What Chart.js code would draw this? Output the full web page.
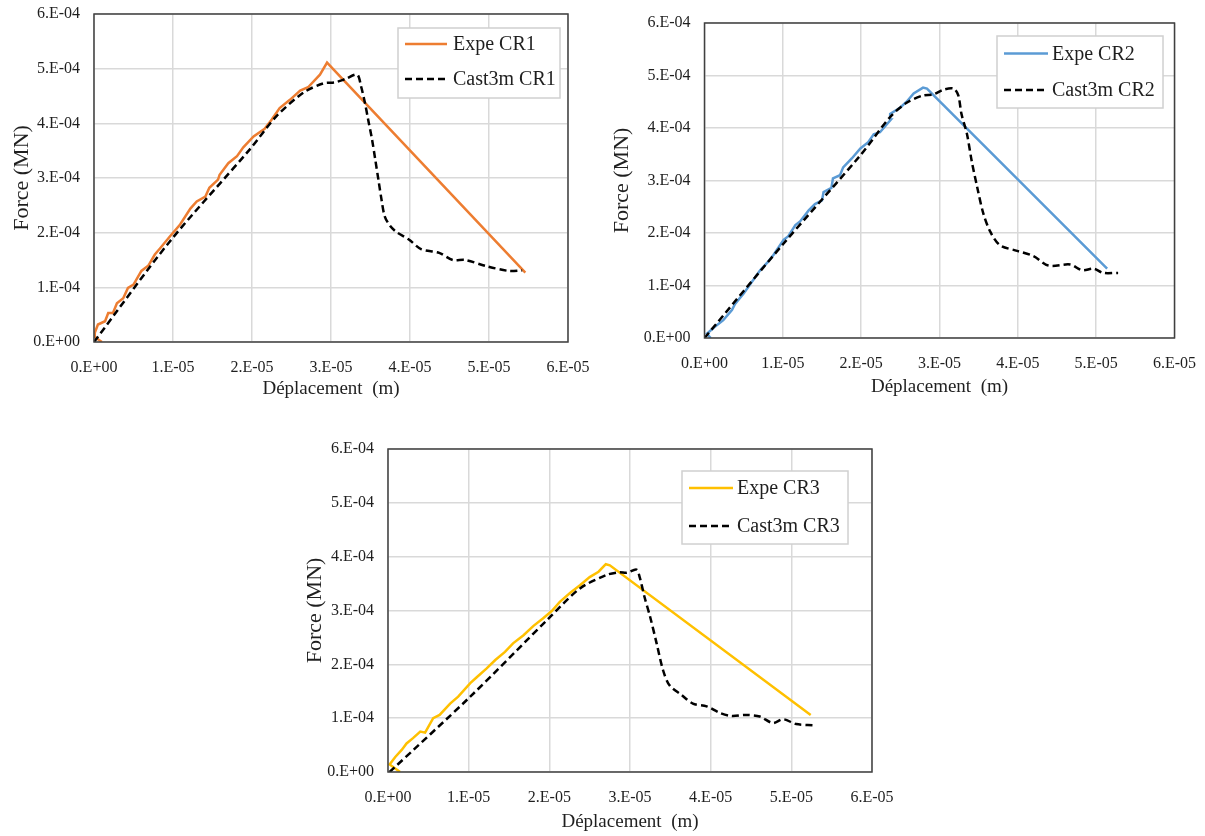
<!DOCTYPE html>
<html>
<head>
<meta charset="utf-8">
<title>Force - Déplacement CR1 CR2 CR3</title>
<script src="https://cdn.jsdelivr.net/npm/chart.js@4.4.1/dist/chart.umd.min.js"></script>
<style>
  html, body { margin: 0; padding: 0; background: #fff; }
  body { width: 1205px; height: 836px; position: relative; overflow: hidden; }
  .panel { position: absolute; }
</style>
</head>
<body>
<div class="panel" style="left:0px;top:0px"><canvas id="cr1" width="600" height="410"></canvas></div>
<div class="panel" style="left:600px;top:0px"><canvas id="cr2" width="605" height="410"></canvas></div>
<div class="panel" style="left:290px;top:430px"><canvas id="cr3" width="620" height="406"></canvas></div>
<script>
// displacement in units of 1.E-05 m, force in units of 1.E-04 MN
const xTickLabels = ['0.E+00', '1.E-05', '2.E-05', '3.E-05', '4.E-05', '5.E-05', '6.E-05'];
const yTickLabels = ['0.E+00', '1.E-04', '2.E-04', '3.E-04', '4.E-04', '5.E-04', '6.E-04'];

const cr1ExpeX = [0.10, 0.00, 0.01, 0.05, 0.14, 0.18, 0.24, 0.29, 0.37, 0.43, 0.50, 0.60, 0.69, 0.77, 0.84, 0.96, 1.09, 1.22, 1.30, 1.41, 1.46, 1.57, 1.59, 1.70, 1.81, 1.89, 2.02, 2.16, 2.25, 2.35, 2.48, 2.61, 2.71, 2.86, 2.95, 5.46];
const cr1ExpeY = [0.00, 0.10, 0.17, 0.32, 0.38, 0.53, 0.53, 0.71, 0.80, 0.99, 1.05, 1.30, 1.40, 1.60, 1.72, 1.93, 2.15, 2.44, 2.57, 2.66, 2.82, 2.97, 3.06, 3.27, 3.40, 3.56, 3.76, 3.90, 4.07, 4.28, 4.43, 4.60, 4.66, 4.89, 5.11, 1.27];
const cr1CastX = [0, 0.96, 1.97, 2.31, 2.65, 2.90, 3.05, 3.18, 3.33, 3.38, 3.43, 3.47, 3.52, 3.56, 3.60, 3.64, 3.68, 3.75, 3.83, 3.99, 4.14, 4.37, 4.54, 4.70, 4.96, 5.25, 5.42];
const cr1CastY = [0, 1.84, 3.52, 4.13, 4.56, 4.73, 4.75, 4.81, 4.89, 4.68, 4.37, 4.07, 3.70, 3.34, 2.97, 2.60, 2.30, 2.12, 2.01, 1.87, 1.70, 1.63, 1.50, 1.50, 1.39, 1.30, 1.31];

const cr2ExpeX = [0.08, 0.03, 0.12, 0.24, 0.35, 0.39, 0.50, 0.62, 0.71, 0.81, 0.88, 1.01, 1.07, 1.16, 1.22, 1.33, 1.41, 1.50, 1.52, 1.62, 1.64, 1.73, 1.77, 1.88, 1.99, 2.09, 2.16, 2.24, 2.38, 2.37, 2.50, 2.58, 2.67, 2.79, 2.84, 5.14];
const cr2ExpeY = [0.00, 0.08, 0.20, 0.34, 0.53, 0.65, 0.85, 1.10, 1.29, 1.45, 1.58, 1.87, 1.94, 2.15, 2.22, 2.43, 2.55, 2.62, 2.78, 2.86, 3.04, 3.10, 3.25, 3.42, 3.61, 3.73, 3.88, 3.92, 4.16, 4.27, 4.39, 4.50, 4.66, 4.77, 4.75, 1.32];
const cr2CastX = [0, 1.01, 1.99, 2.37, 2.58, 2.79, 2.92, 3.05, 3.18, 3.24, 3.28, 3.35, 3.41, 3.48, 3.56, 3.65, 3.77, 3.99, 4.20, 4.39, 4.67, 4.82, 4.97, 5.09, 5.28];
const cr2CastY = [0, 1.80, 3.48, 4.21, 4.48, 4.62, 4.64, 4.73, 4.75, 4.62, 4.27, 3.89, 3.38, 2.88, 2.37, 2.02, 1.77, 1.66, 1.56, 1.38, 1.40, 1.29, 1.32, 1.24, 1.24];

const cr3ExpeX = [0.15, 0.02, 0.09, 0.17, 0.23, 0.31, 0.40, 0.46, 0.56, 0.64, 0.77, 0.87, 1.02, 1.10, 1.22, 1.33, 1.45, 1.55, 1.68, 1.80, 1.92, 2.03, 2.13, 2.26, 2.38, 2.50, 2.61, 2.70, 2.75, 5.24];
const cr3ExpeY = [0.00, 0.14, 0.28, 0.41, 0.53, 0.63, 0.75, 0.73, 1.00, 1.06, 1.27, 1.40, 1.65, 1.76, 1.92, 2.08, 2.23, 2.39, 2.54, 2.71, 2.85, 2.99, 3.16, 3.33, 3.47, 3.62, 3.72, 3.86, 3.84, 1.06];
const cr3CastX = [0.02, 1.02, 2.01, 2.38, 2.71, 2.87, 2.96, 3.08, 3.12, 3.18, 3.25, 3.33, 3.41, 3.49, 3.64, 3.78, 3.95, 4.11, 4.26, 4.44, 4.61, 4.77, 4.90, 5.06, 5.27];
const cr3CastY = [0.00, 1.40, 2.88, 3.41, 3.66, 3.71, 3.70, 3.76, 3.62, 3.25, 2.88, 2.39, 1.89, 1.61, 1.43, 1.27, 1.22, 1.10, 1.04, 1.06, 1.03, 0.91, 0.98, 0.89, 0.87];

const FONT = '"Liberation Serif", "Times New Roman", serif';
const TEXT = '#1f1f1f';

const toPoints = (xs, ys) => xs.map((x, i) => ({ x, y: ys[i] }));

// plot frame + legend box drawn inside the plot
const frameLegend = {
  id: 'frameLegend',
  afterDatasetsDraw(chart, args, opts) {
    const { ctx, chartArea: a } = chart;
    const L = opts.box;
    ctx.save();
    ctx.strokeStyle = '#404040';
    ctx.lineWidth = 1.5;
    ctx.strokeRect(a.left, a.top, a.right - a.left, a.bottom - a.top);

    ctx.fillStyle = '#fff';
    ctx.fillRect(L.x, L.y, L.w, L.h);
    ctx.strokeStyle = '#d0d0d0';
    ctx.lineWidth = 1.5;
    ctx.strokeRect(L.x, L.y, L.w, L.h);

    chart.data.datasets.forEach((ds, i) => {
      const y = L.rows[i];
      ctx.strokeStyle = ds.borderColor;
      ctx.lineWidth = ds.borderWidth;
      ctx.setLineDash(ds.borderDash || []);
      ctx.beginPath();
      ctx.moveTo(L.x1, y);
      ctx.lineTo(L.x2, y);
      ctx.stroke();
      ctx.setLineDash([]);
      ctx.fillStyle = TEXT;
      ctx.font = '20px ' + FONT;
      ctx.textBaseline = 'middle';
      ctx.fillText(ds.label, L.tx, y + 1);
    });
    ctx.restore();
  }
};

function makeChart(id, name, color, expeX, expeY, castX, castY, frame) {
  const canvas = document.getElementById(id);
  const W = canvas.width, H = canvas.height;
  new Chart(canvas, {
    type: 'scatter',
    data: {
      datasets: [
        {
          label: 'Expe ' + name,
          data: toPoints(expeX, expeY),
          showLine: true,
          borderColor: color,
          borderWidth: 2.5,
          pointRadius: 0,
          tension: 0,
          order: 1
        },
        {
          label: 'Cast3m ' + name,
          data: toPoints(castX, castY),
          showLine: true,
          borderColor: '#000',
          borderWidth: 2.5,
          borderDash: [7, 4],
          pointRadius: 0,
          tension: 0.3,
          order: 0
        }
      ]
    },
    options: {
      responsive: false,
      animation: false,
      devicePixelRatio: 1,
      layout: {
        autoPadding: false,
        padding: { left: 0, top: frame.top, right: W - frame.right, bottom: 0 }
      },
      plugins: {
        legend: { display: false },
        tooltip: { enabled: false },
        frameLegend: { box: frame.legend }
      },
      scales: {
        x: {
          type: 'linear',
          min: 0,
          max: 6,
          afterFit: s => {
            s.height = H - frame.bottom;
            s.paddingLeft = 0; s.paddingRight = 0; s.paddingTop = 0; s.paddingBottom = 0;
          },
          ticks: {
            stepSize: 1,
            padding: 16,
            color: TEXT,
            font: { family: FONT, size: 16 },
            maxRotation: 0,
            callback: v => xTickLabels[Math.round(v)]
          },
          grid: { color: '#d9d9d9', lineWidth: 1.5, drawTicks: false },
          border: { display: false },
          title: {
            display: true,
            text: 'Déplacement  (m)',
            color: TEXT,
            font: { family: FONT, size: 19 },
            padding: { top: 0, bottom: frame.xTitlePad }
          }
        },
        y: {
          type: 'linear',
          min: 0,
          max: 6,
          afterFit: s => {
            s.width = frame.left;
            s.paddingLeft = 0; s.paddingRight = 0; s.paddingTop = 0; s.paddingBottom = 0;
          },
          ticks: {
            stepSize: 1,
            padding: 14,
            color: TEXT,
            font: { family: FONT, size: 16 },
            callback: v => yTickLabels[Math.round(v)]
          },
          grid: { color: '#d9d9d9', lineWidth: 1.5, drawTicks: false },
          border: { display: false },
          title: {
            display: true,
            text: 'Force (MN)',
            color: TEXT,
            font: { family: FONT, size: 22 },
            padding: { top: frame.yTitlePad, bottom: 0 }
          }
        }
      }
    },
    plugins: [frameLegend]
  });
}

makeChart('cr1', 'CR1', '#ED7D31', cr1ExpeX, cr1ExpeY, cr1CastX, cr1CastY, {
  left: 94, top: 14, right: 568, bottom: 342, yTitlePad: 9, xTitlePad: 10,
  legend: { x: 398, y: 28, w: 162, h: 70, rows: [44, 79], x1: 405, x2: 447, tx: 453 }
});

makeChart('cr2', 'CR2', '#5B9BD5', cr2ExpeX, cr2ExpeY, cr2CastX, cr2CastY, {
  left: 104.5, top: 23, right: 574.5, bottom: 338, yTitlePad: 9, xTitlePad: 12,
  legend: { x: 397, y: 36, w: 166, h: 72, rows: [53.5, 90], x1: 404, x2: 448, tx: 452 }
});

makeChart('cr3', 'CR3', '#FFC000', cr3ExpeX, cr3ExpeY, cr3CastX, cr3CastY, {
  left: 98, top: 19, right: 582, bottom: 342, yTitlePad: 12, xTitlePad: 3,
  legend: { x: 392, y: 41, w: 166, h: 73, rows: [58, 96], x1: 399, x2: 443, tx: 447 }
});
</script>
</body>
</html>
